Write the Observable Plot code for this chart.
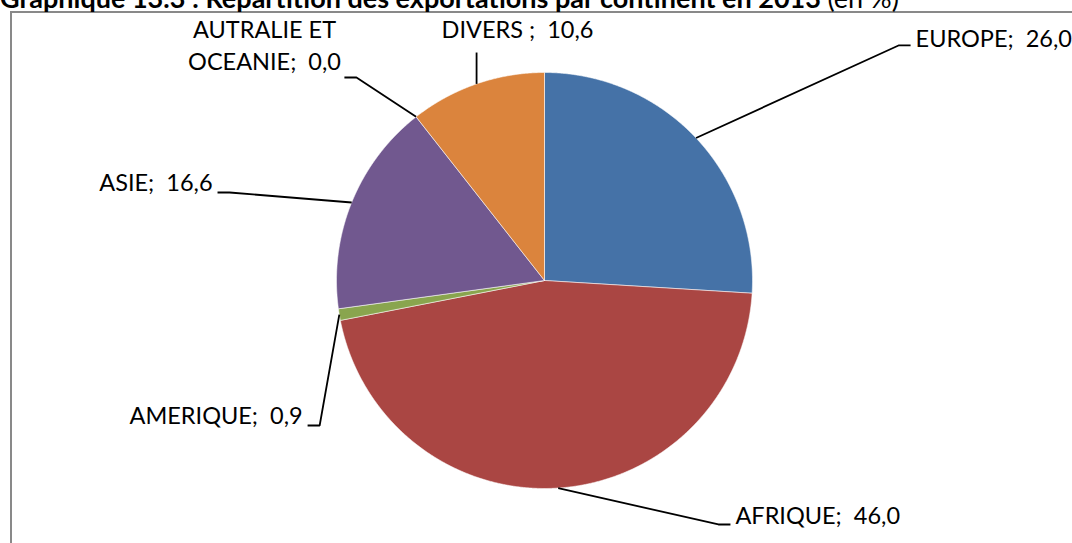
<!DOCTYPE html>
<html><head><meta charset="utf-8">
<script src="https://cdn.jsdelivr.net/npm/d3@7"></script>
<script src="https://cdn.jsdelivr.net/npm/@observablehq/plot@0.6"></script>
<style>
html,body{margin:0;padding:0;background:#fff;overflow:hidden;width:1072px;height:543px;}
#wrap{position:relative;width:1072px;height:543px;overflow:hidden;}
#frame{position:absolute;left:10px;top:11px;width:1200px;height:700px;border:2px solid #898989;box-sizing:border-box;}
#title{position:absolute;left:0;top:-19px;font-family:Lato,sans-serif;font-weight:bold;font-size:27px;line-height:normal;white-space:nowrap;color:#000;}
#title span{font-weight:normal;}
#chart{position:absolute;left:0;top:0;}
svg text{white-space:pre;}
</style></head><body>
<div id="wrap"><div id="frame"></div><div id="chart"></div><div id="title">Graphique 13.3 : Répartition des exportations par continent en 2013 <span>(en %)</span></div></div>
<script>
// ---- data ----
const continents = ["EUROPE", "AFRIQUE", "AMERIQUE", "ASIE", "AUTRALIE ET OCEANIE", "DIVERS"];
const shares = [26.0, 46.0, 0.9, 16.6, 0.0, 10.6];
const labelNames = ["EUROPE", "AFRIQUE", "AMERIQUE", "ASIE", "AUTRALIE ET\nOCEANIE", "DIVERS "];

// ---- style / layout ----
const sliceColors = ["#4572A7", "#AA4643", "#89A54E", "#71588F", "#4198AF", "#DB843D"];
const W = 1072, H = 543, R = 208, CX = 544, CY = 280;
const STUB = 0.058;
// label placement in pie-radius units relative to the centre (y up)
const placement = [
  {end: [1.760, 1.130], stub: -1, text: [1.784, 1.149], anchor: "start"},
  {end: [0.894, -1.173], stub: -1, text: [0.918, -1.144], anchor: "start"},
  {end: [-1.139, -0.697], stub: 1, text: [-1.163, -0.663], anchor: "end"},
  {end: [-1.572, 0.423], stub: 1, text: [-1.596, 0.457], anchor: "end"},
  {end: [-0.962, 0.976], stub: 1, text: [-1.346, 1.115], anchor: "middle"},
  {end: [null, 1.096], stub: 0, text: [-0.130, 1.192], anchor: "middle"}
];

const rows = continents.map((name, i) => ({name, share: shares[i], label: labelNames[i] + ";  " + shares[i].toFixed(1).replace(".", ",")}));
const arcs = d3.pie().sort(null).value(d => d.share).startAngle(0).endAngle(2 * Math.PI)(rows);

const slicePts = arcs.flatMap(a => {
  const a0 = a.startAngle, a1 = a.endAngle;
  if (a1 - a0 <= 0) return [];
  const name = a.data.name;
  const n = Math.max(2, Math.ceil((a1 - a0) / 0.004));
  const pts = [{name, x: 0, y: 0}];
  for (let i = 0; i <= n; i++) {
    const t = a0 + (a1 - a0) * i / n;
    pts.push({name, x: Math.sin(t), y: Math.cos(t)});
  }
  pts.push({name, x: 0, y: 0});
  return pts;
});

const leaderPts = arcs.flatMap((a, i) => {
  const p = placement[i];
  const mid = (a.startAngle + a.endAngle) / 2;
  const ax = Math.sin(mid), ay = Math.cos(mid);
  const ex = p.end[0] === null ? ax : p.end[0];
  const ey = p.end[1];
  const name = a.data.name;
  return [
    {name, x: ax, y: ay},
    {name, x: ex + p.stub * STUB, y: ey},
    {name, x: ex, y: ey}
  ];
});

const labelRows = arcs.map((a, i) => ({label: a.data.label, x: placement[i].text[0], y: placement[i].text[1], anchor: placement[i].anchor}));

const textOpts = {x: "x", y: "y", text: "label", fontSize: 23.5, fontFamily: "Lato, sans-serif", fill: "#000", lineHeight: 1.36, dy: -5};

const chart = Plot.plot({
  width: W, height: H,
  margin: 0,
  x: {domain: [-CX / R, (W - CX) / R], range: [0, W], axis: null},
  y: {domain: [-(H - CY) / R, CY / R], range: [H, 0], axis: null},
  color: {domain: continents, range: sliceColors},
  style: {background: "transparent", overflow: "visible"},
  marks: [
    Plot.line(slicePts, {x: "x", y: "y", z: "name", fill: "name", stroke: "white", strokeWidth: 0.8, strokeOpacity: 0.7, curve: "linear"}),
    Plot.line(leaderPts, {x: "x", y: "y", z: "name", stroke: "#000", strokeWidth: 1.8, strokeLinecap: "butt", strokeLinejoin: "miter"}),
    Plot.text(labelRows.filter(d => d.anchor === "start"), {...textOpts, textAnchor: "start"}),
    Plot.text(labelRows.filter(d => d.anchor === "end"), {...textOpts, textAnchor: "end"}),
    Plot.text(labelRows.filter(d => d.anchor === "middle"), {...textOpts, textAnchor: "middle"})
  ]
});
document.getElementById("chart").appendChild(chart);
</script>
</body></html>
